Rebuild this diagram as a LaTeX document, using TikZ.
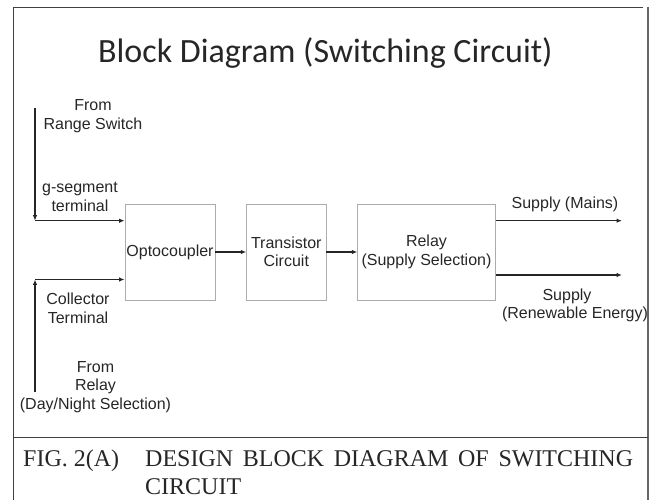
\documentclass[tikz,border=0pt]{standalone}
\usepackage{fontspec}
\newfontfamily\arialf{Liberation Sans}
\newfontfamily\titlef{Carlito}
\newfontfamily\capf{Liberation Serif}
\usetikzlibrary{arrows.meta}
\begin{document}
\begin{tikzpicture}[x=1pt,y=-1pt,
  lbl/.style={font=\arialf\fontsize{16}{18.5}\selectfont, align=center, inner sep=0pt, text=black!85},
  blk/.style={draw=gray!65, line width=0.8pt, inner sep=0pt, minimum height=96pt,
              font=\arialf\fontsize{16}{18.5}\selectfont, align=center, text=black!85},
  arr/.style={line width=1.2pt, draw=black!85, -{Latex[length=5.5pt,width=4.5pt]}},
  framestyle/.style={draw=black!75, line width=1pt},
  captext/.style={font=\capf\fontsize{24}{28}\selectfont, inner sep=0pt, anchor=base west, text=black!85}]
\useasboundingbox (0,0) rectangle (649,500);
% frame
\coordinate (tl) at (13.5,7.5);
\coordinate (tr) at (643,7.5);
\coordinate (bl) at (13.5,500);
\coordinate (rt) at (647.5,7.5);
\coordinate (rb) at (647.5,500);
\coordinate (sl) at (13.5,437.5);
\coordinate (sr) at (647.5,437.5);
\draw[framestyle] (bl) -- (tl) -- (tr);
\draw[draw=gray!80!black, line width=2pt] (rt) -- (rb);
\draw[framestyle] (sl) -- (sr);
% title
\node[font=\titlef\fontsize{34}{40}\selectfont, anchor=base west, inner sep=0pt, text=black!85] (title) at (98,63) {Block Diagram (Switching Circuit)};
% blocks
\node[blk, minimum width=90pt] (opto) at (170,252) {Optocoupler};
\node[blk, minimum width=79.3pt] (tran) at (286.3,252) {Transistor\\Circuit};
\node[blk, minimum width=137.6pt] (relay) at (426.5,252) {Relay\\(Supply Selection)};
% connectors between blocks
\draw[arr] (opto.east) -- (tran.west);
\draw[arr] (tran.east) -- (relay.west);
% inputs
\coordinate (gtop) at (35,108);
\coordinate (gcorner) at (35,220.7);
\draw[arr] (gtop) -- (gcorner);
\draw[arr] (gcorner) -- (opto.west |- gcorner);
\coordinate (cbot) at (35,392);
\coordinate (ccorner) at (35,279.5);
\draw[arr] (cbot) -- (ccorner);
\draw[arr] (ccorner) -- (opto.west |- ccorner);
% outputs
\coordinate (mainsend) at (622,220.7);
\coordinate (renewend) at (622,275);
\draw[arr] (relay.east |- mainsend) -- (mainsend);
\draw[arr] (relay.east |- renewend) -- (renewend);
% labels
\node[lbl] (lfrom) at (93,116) {From\\Range Switch};
\node[lbl] (lgseg) at (80,197) {g-segment\\terminal};
\node[lbl] (lcoll) at (78,308.5) {Collector\\Terminal};
\node[lbl] (lrelay) at (95.5,387) {From\\Relay\\(Day/Night Selection)};
\node[lbl] (lmains) at (565,204) {Supply (Mains)};
\node[lbl] (lsup) at (567,296) {Supply};
\node[lbl] (lren) at (575,314.5) {(Renewable Energy)};
% caption
\node[captext] (fig) at (23,466) {FIG. 2(A)};
\node[captext] (cap1) at (145,466) {\makebox[488pt][s]{DESIGN BLOCK DIAGRAM OF SWITCHING}};
\node[captext] (cap2) at (145,494) {CIRCUIT};
\end{tikzpicture}
\end{document}
